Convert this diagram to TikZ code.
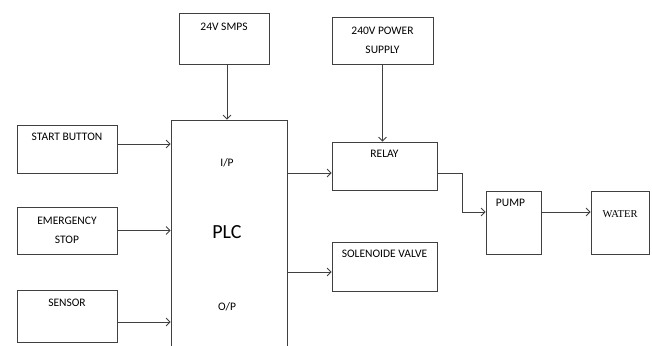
\documentclass[tikz,border=0pt]{standalone}
\usepackage{fontspec}
\setmainfont{Carlito}
\newfontfamily\timesface{Liberation Serif}
\usetikzlibrary{arrows.meta}

\begin{document}
\begin{tikzpicture}[
    x=1pt, y=-1pt,
    font=\fontsize{11.5}{14}\selectfont,
    blk/.style={
      draw=black!75,
      line width=0.8pt,
      inner sep=0pt,
      align=center
    },
    toplbl/.style={below=#1, inner sep=0pt},
    toplbl/.default=8.5pt,
    twoline/.style={font=\fontsize{11.5}{19}\selectfont},
    flow/.style={draw=black!75, line width=0.8pt, -{Straight Barb[length=4pt,width=8pt]}}
  ]
    \useasboundingbox (0,0) rectangle (652,345);
    \clip (0,0) rectangle (652,345);

    % supplies
    \node[blk, minimum width=90pt, minimum height=51pt,
      label={[toplbl=10pt]north:24V SMPS}] (smps) at (224,38.5) {};
    \node[blk, twoline, minimum width=101pt, minimum height=47pt] (pwr) at (382.5,40.5)
      {240V POWER\\SUPPLY};

    % inputs
    \node[blk, minimum width=100pt, minimum height=48pt,
      label={[toplbl]north:START BUTTON}] (start) at (67,149) {};
    \node[blk, twoline, minimum width=100pt, minimum height=47pt] (estop) at (67,230.5)
      {EMERGENCY\\STOP};
    \node[blk, minimum width=100pt, minimum height=52pt,
      label={[toplbl=9.5pt]north:SENSOR}] (sensor) at (67,316) {};

    % controller
    \node[blk, minimum width=116pt, minimum height=280pt] (plc) at (229,260) {};
    \node (ip) at (227,163) {I/P};
    \node[font=\fontsize{20}{24}\selectfont] (plcname) at (227,232) {PLC};
    \node (op) at (227,307) {O/P};

    % outputs
    \node[blk, minimum width=105pt, minimum height=48pt,
      label={[toplbl]north:RELAY}] (relay) at (384.5,166) {};
    \node[blk, minimum width=105pt, minimum height=49pt,
      label={[toplbl]north:SOLENOIDE VALVE}] (sol) at (384.5,266.5) {};
    \node[blk, minimum width=55pt, minimum height=63pt,
      label={[toplbl, xshift=-3pt]north:PUMP}] (pump) at (513.5,222.5) {};
    \node[blk, minimum width=58pt, minimum height=63pt,
      label={[toplbl=19.5pt, font=\timesface\fontsize{10.5}{12}\selectfont]north:WATER}] (water) at (620,222.5) {};

    \draw[flow] ([xshift=3pt]smps.south) -- ([xshift=3pt]smps.south |- plc.north);
    \draw[flow] (pwr.south) -- (pwr.south |- relay.north);
    \draw[flow] ([yshift=5pt]start.east) -- ([yshift=5pt]start.east -| plc.west);
    \draw[flow] (estop.east) -- (estop.east -| plc.west);
    \draw[flow] ([yshift=-6pt]sensor.east) -- ([yshift=-6pt]sensor.east -| plc.west);
    \draw[flow] ([yshift=-7pt]relay.west -| plc.east) -- ([yshift=-7pt]relay.west);
    \draw[flow] ([yshift=-5.5pt]sol.west -| plc.east) -- ([yshift=-5.5pt]sol.west);
    \draw[flow] ([yshift=-7pt]relay.east) -- ++(25,0) |- ([yshift=10.5pt]pump.west);
    \draw[flow] ([yshift=10.5pt]pump.east) -- ([yshift=10.5pt]pump.east -| water.west);
  \end{tikzpicture}
\end{document}
